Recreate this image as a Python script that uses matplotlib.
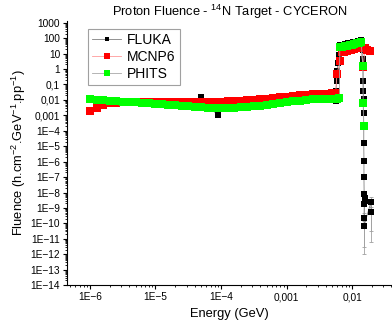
import matplotlib
matplotlib.use("Agg")
import matplotlib.pyplot as plt
from matplotlib.ticker import LogLocator, NullFormatter

plt.rcParams["font.family"] = ["Liberation Sans", "DejaVu Sans"]
plt.rcParams["mathtext.default"] = "regular"

# shared low-energy grid (GeV)
E_LOW = [1.00e-6, 1.26e-6, 1.58e-6, 2.00e-6, 2.51e-6, 3.16e-6, 3.98e-6, 5.01e-6, 6.31e-6, 7.94e-6,
         1.00e-5, 1.26e-5, 1.58e-5, 2.00e-5, 2.51e-5, 3.16e-5, 3.98e-5, 5.01e-5, 6.31e-5, 7.94e-5,
         1.00e-4, 1.26e-4, 1.58e-4, 2.00e-4, 2.51e-4, 3.16e-4, 3.98e-4, 5.01e-4, 6.31e-4, 7.94e-4,
         1.00e-3, 1.26e-3, 1.58e-3, 2.00e-3, 2.51e-3, 3.16e-3, 3.98e-3, 5.01e-3, 5.62e-3]

# FLUKA
fluka_low = [0.0111, 0.0103, 0.00955, 0.00887, 0.00822, 0.00785, 0.0074, 0.00687, 0.00687, 0.0066,
             0.00637, 0.00614, 0.00586, 0.0056, 0.00535, 0.00515, 0.00497, 0.0165, 0.00482, 0.0010,
             0.00485, 0.00493, 0.00512, 0.00535, 0.00573, 0.00622, 0.00681, 0.00762, 0.00867, 0.00977,
             0.0109, 0.0123, 0.0134, 0.0146, 0.0157, 0.0166, 0.0135, 0.0093, 0.0086]
fluka_e_peak = [0.0057, 0.0058, 0.0059, 0.0061, 0.0063, 0.0065,
                0.0066, 0.0072, 0.0079, 0.0087, 0.0095, 0.0104, 0.0114, 0.0125, 0.0136,
                0.0143, 0.0145, 0.0147, 0.0148, 0.0149, 0.0150, 0.0150, 0.0151, 0.0151,
                0.0152, 0.0152, 0.0153, 0.0156, 0.0160, 0.0154, 0.0152, 0.0153, 0.0195, 0.0195]
fluka_peak = [0.04, 0.17, 0.8, 2.6, 8.7, 29,
              35, 38, 42, 46, 50, 55, 60, 65, 72,
              40, 16, 4.8, 0.17, 0.039, 0.0117, 0.0014, 2.0e-4, 1.6e-5,
              1.1e-6, 1.0e-7, 8.5e-9, 4.7e-9, 3.0e-9, 1.9e-9, 2.4e-10, 7.2e-11, 2.6e-9, 5.9e-10]
fluka_err_peak = [0, 0, 0, 0, 0, 0,
                  0, 0, 0, 0, 0, 0, 0, 0, 0,
                  0, 0, 0, 0, 0, 0, 0, 0, 0,
                  0, 0, 0, 0, 0, 1.85e-9, 2.37e-10, 7.1e-11, 2.57e-9, 5.84e-10]

# MCNP6
mcnp_low = [0.00206, 0.0030, 0.00471, 0.0059, 0.00656, 0.00697, 0.00718, 0.0074, 0.0074, 0.0074,
            0.0074, 0.0074, 0.0073, 0.00718, 0.00708, 0.00708, 0.00708, 0.00718, 0.0074, 0.00763,
            0.00785, 0.0081, 0.00847, 0.00887, 0.00942, 0.0100, 0.0108, 0.0118, 0.0131, 0.0146,
            0.0162, 0.0180, 0.0197, 0.0212, 0.0229, 0.0243, 0.0258, 0.0274, 0.0287]
mcnp_e_peak = [0.0059, 0.0066, 0.0070, 0.0076, 0.0083, 0.0090, 0.0098,
               0.0106, 0.0115, 0.0125, 0.0136, 0.0148, 0.0158, 0.0170, 0.0185]
mcnp_peak = [0.5, 3.5, 12, 13.5, 15, 16.5, 18,
             20, 22, 24, 27, 1.4, 22, 18, 14]

# PHITS
phits_low = [0.0111, 0.0103, 0.00955, 0.00887, 0.00822, 0.00785, 0.0074, 0.00687, 0.00637, 0.0059,
             0.00548, 0.00508, 0.00471, 0.00438, 0.00406, 0.00376, 0.00348, 0.00333, 0.00314, 0.00305,
             0.0030, 0.0030, 0.00309, 0.00324, 0.00348, 0.00387, 0.00431, 0.00493, 0.00573, 0.00656,
             0.0074, 0.00836, 0.00914, 0.0100, 0.0108, 0.0113, 0.0116, 0.0120, 0.0122]
phits_e_peak = [0.0059, 0.0064, 0.0065, 0.0071, 0.0077, 0.0084, 0.0092, 0.0100, 0.0109, 0.0118,
                0.0128, 0.0138, 0.0146, 0.0148, 0.0150]
phits_peak = [0.0123, 0.0125, 25, 27.5, 30, 33, 36, 39, 42.5, 46,
              49.5, 53, 1.7, 0.0066, 2.0e-4]

fluka_e = E_LOW[:19] + [8.9e-5] + E_LOW[20:] + fluka_e_peak
fluka = fluka_low + fluka_peak
fluka_err = [0] * len(fluka_low) + fluka_err_peak
mcnp_e = E_LOW + mcnp_e_peak
mcnp = mcnp_low + mcnp_peak
phits_e = E_LOW + phits_e_peak
phits = phits_low + phits_peak

ytick_vals = [1e3, 1e2, 1e1, 1, 1e-1, 1e-2, 1e-3, 1e-4, 1e-5, 1e-6, 1e-7, 1e-8, 1e-9,
              1e-10, 1e-11, 1e-12, 1e-13, 1e-14]
ytick_labels = ["1000", "100", "10", "1", "0,1", "0,01", "0,001", "1E\u22124", "1E\u22125",
                "1E\u22126", "1E\u22127", "1E\u22128", "1E\u22129", "1E\u221210", "1E\u221211",
                "1E\u221212", "1E\u221213", "1E\u221214"]
xtick_vals = [1e-6, 1e-5, 1e-4, 1e-3, 1e-2]
xtick_labels = ["1E\u22126", "1E\u22125", "1E\u22124", "0,001", "0,01"]

fig = plt.figure(figsize=(3.92, 3.27), dpi=100)
ax = fig.add_axes([0.171, 0.128, 0.829, 0.809])

ax.errorbar(fluka_e, fluka, yerr=fluka_err, fmt="none", ecolor="#a0a0a0",
            elinewidth=0.6, capsize=1.5, capthick=0.6, zorder=1)
ax.plot(fluka_e, fluka, color="#808080", lw=0.6, marker="s", ms=4.5, mfc="black",
        mec="black", mew=0, label="FLUKA", zorder=2)
ax.plot(mcnp_e, mcnp, color="#ff9a9a", lw=0.6, marker="s", ms=5.4, mfc="red",
        mec="red", mew=0, label="MCNP6", zorder=3)
ax.plot(phits_e, phits, color="#a8a8a8", lw=0.6, marker="s", ms=5.4, mfc="#00ff00",
        mec="#00ff00", mew=0, label="PHITS", zorder=4)

ax.set_xscale("log")
ax.set_yscale("log")
ax.set_xlim(10 ** -6.35, 10 ** -1.39)
ax.set_ylim(1e-14, 10 ** 3.14)

ax.set_yticks(ytick_vals, ytick_labels)
ax.set_xticks(xtick_vals, xtick_labels)
ax.yaxis.set_minor_locator(LogLocator(base=10, subs=range(2, 10), numticks=100))
ax.xaxis.set_minor_locator(LogLocator(base=10, subs=range(2, 10), numticks=100))
ax.yaxis.set_minor_formatter(NullFormatter())
ax.xaxis.set_minor_formatter(NullFormatter())
ax.tick_params(which="major", direction="out", length=3, width=0.8, labelsize=7.3, pad=2)
ax.tick_params(which="minor", direction="out", length=1.6, width=0.6)
for s in ["top", "right"]:
    ax.spines[s].set_visible(False)
for s in ["left", "bottom"]:
    ax.spines[s].set_linewidth(0.8)

ax.set_title("Proton Fluence - $^{14}$N Target - CYCERON", fontsize=9.3, pad=2.5)
ax.set_xlabel("Energy (GeV)", fontsize=9.3, labelpad=4)
ax.set_ylabel("Fluence (h.cm$^{-2}$.GeV$^{-1}$.pp$^{-1}$)", fontsize=9.3, labelpad=2)

leg = ax.legend(loc="upper left", bbox_to_anchor=(0.0646, 0.968), borderaxespad=0,
                fontsize=10, fancybox=False, edgecolor="#a0a0a0", framealpha=1,
                markerscale=0.75, handlelength=2.1, handletextpad=0.4,
                labelspacing=0.2, borderpad=0.3)
leg.get_frame().set_linewidth(0.8)

fig.savefig("out.png", dpi=100)
